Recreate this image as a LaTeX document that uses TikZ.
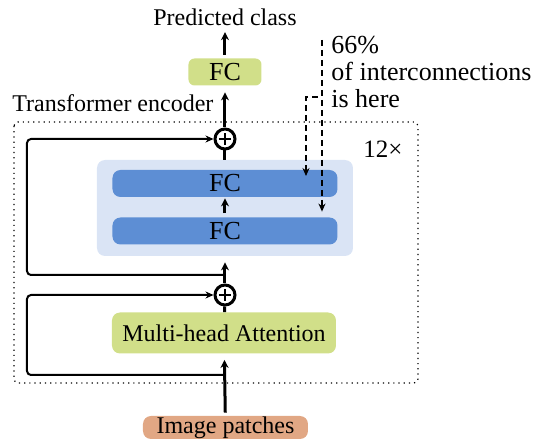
\documentclass[tikz,border=0pt]{standalone}
\usepackage{fontspec}
\setmainfont{Liberation Serif}
\usepackage{tikz}
\usetikzlibrary{arrows,arrows.meta,shapes,positioning}
\definecolor{vitgreen}{RGB}{209,223,137}
\definecolor{vitblue}{RGB}{93,142,212}
\definecolor{vitpanel}{RGB}{218,228,245}
\definecolor{vitorange}{RGB}{225,167,132}
\tikzstyle{arrow} = [line width=1.5pt,-{Stealth[length=4pt,width=4pt]}]
\tikzstyle{skip} = [line width=1pt,rounded corners=2pt,-{Stealth[length=4pt,width=3.5pt]}]
\tikzstyle{dasharrow} = [line width=1pt,dash pattern=on 3pt off 2pt,-{Stealth[length=4pt,width=3.5pt]}]
\tikzstyle{fcbox} = [rounded corners=4pt,fill=vitblue,inner sep=0,minimum width=112.5pt,minimum height=13.5pt,font=\fontsize{13}{15}\selectfont]
\tikzstyle{addnode} = [circle,draw,line width=1.5pt,minimum size=10pt,inner sep=0,
  path picture={\draw[line width=1.1pt] ([yshift=-3pt]path picture bounding box.center) -- ([yshift=3pt]path picture bounding box.center);
                \draw[line width=1.1pt] ([xshift=-3pt]path picture bounding box.center) -- ([xshift=3pt]path picture bounding box.center);}]

\begin{document}
\begin{tikzpicture}[x=0.5pt,y=-0.5pt,font=\fontsize{12}{14}\selectfont]
\useasboundingbox (0,0) rectangle (538,439);

% Encoder frame
\draw[dotted, line width=0.6pt, rounded corners=2pt] (14,122) rectangle (418,383);
\node[anchor=base west, inner sep=0] (enclabel) at (12,111.5) {Transformer encoder};
\node[anchor=base, inner sep=0, font=\fontsize{12.5}{14}\selectfont] (repeat) at (383,157.5) {12×};

% MLP block
\node[rounded corners=4pt, fill=vitpanel, minimum width=128pt, minimum height=48pt] (mlp) at (225,208) {};
\node[fcbox] (fctop) at (225,183.5) {FC};
\node[fcbox] (fcbot) at (225,231) {FC};

% Attention and input
\node[rounded corners=4pt, fill=vitgreen, inner sep=0, minimum width=112pt, minimum height=20.5pt] (mha) at (224,333) {Multi-head Attention};
\node[rounded corners=4pt, fill=vitorange, inner sep=0, minimum width=82.5pt, minimum height=11.5pt] (patches) at (225.5,427.5) {Image patches};

% Residual adds
\node[addnode] (add1) at (225,139) {};
\node[addnode] (add2) at (225,295) {};

% Head
\node[rounded corners=3pt, fill=vitgreen, inner sep=0, minimum width=36.5pt, minimum height=13.5pt, font=\fontsize{13}{15}\selectfont] (fcout) at (225,72) {FC};
\node[anchor=base, inner sep=1pt] (pred) at (225,25.5) {Predicted class};

% Main path
\draw[arrow, shorten <=1.5pt, shorten >=3pt] (patches) -- (mha);
\draw[line width=1.5pt] (mha) -- (add2);
\draw[arrow, shorten >=3pt] (add2) -- (mlp);
\draw[arrow, shorten <=2pt, shorten >=0.5pt] (fcbot) -- (fctop);
\draw[line width=1.5pt] (mlp) -- (add1);
\draw[arrow, shorten >=3.25pt] (add1) -- (fcout);
\draw[arrow, shorten <=1.75pt, shorten >=2pt] (fcout) -- (pred);

% Skip connections
\coordinate (split2) at (225,375);
\coordinate (split1) at (225,275);
\draw[skip] (split2) -- ++(-198,0) |- (add2);
\draw[skip] (split1) -- ++(-198,0) |- (add1);

% Annotation
\coordinate (dtop) at (322,40);
\coordinate (dbranch) at (318,97);
\coordinate (dend) at (306,176);
\draw[dasharrow, shorten >=2.75pt] (dtop) -- (dtop |- fcbot.north);
\draw[dasharrow] (dbranch) -| (dend);
\node[anchor=north west, align=left, inner sep=0, font=\fontsize{13}{13.5}\selectfont] (note) at (331,35.5) {66\%\\of interconnections\\is here};
\end{tikzpicture}
\end{document}
